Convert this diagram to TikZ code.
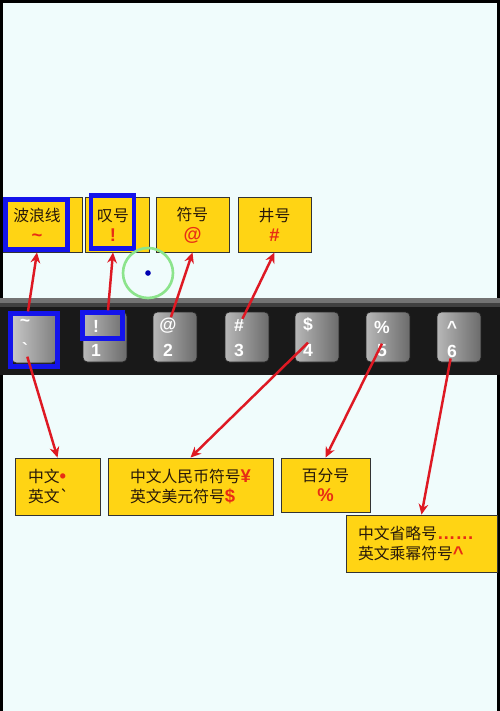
\documentclass[tikz,border=0pt]{standalone}
\usepackage{fontspec}
\newfontfamily\cjk{Noto Sans CJK SC}
\newfontfamily\symf{Liberation Sans}
\usetikzlibrary{arrows.meta, positioning}

\definecolor{bgcyan}{RGB}{240,252,252}
\definecolor{tipyellow}{RGB}{255,212,20}
\definecolor{hlblue}{RGB}{20,20,235}
\definecolor{arrowred}{RGB}{222,25,35}
\definecolor{symred}{RGB}{232,45,20}
\definecolor{inkbrown}{RGB}{40,25,10}
\definecolor{ringgreen}{RGB}{140,228,140}
\newcommand{\redsym}[1]{{\symf\bfseries\fontsize{10.5}{11.5}\selectfont\color{symred}#1}}

\begin{document}
\begin{tikzpicture}[x=0.02cm, y=-0.02cm, >={Stealth[length=6pt, width=5.5pt]},
  tipbox/.style={draw=black!80, line width=0.5pt, fill=tipyellow, inner sep=1pt},
  tiptext/.style={font=\cjk\fontsize{9}{11.5}\selectfont, text=inkbrown, align=center, inner sep=1pt},
  hlrect/.style={draw=hlblue, line width=2.4pt, inner sep=0pt},
  keycap/.style={rounded corners=2.5pt, draw=black!85, left color=black!28, right color=black!58,
                 inner sep=0pt, minimum width=0.88cm, minimum height=1cm},
  keyglyph/.style={font=\symf\bfseries\fontsize{10}{10}\selectfont, text=white, inner sep=0.5pt},
  pointer/.style={->, arrowred, line width=1.4pt}]
  \useasboundingbox (0,0) rectangle (500,711);

  % Background and frame
  \fill[black] (0,0) rectangle (500,711);
  \fill[bgcyan] (3,3) rectangle (497,711);

  % Top labels
  \node[tipbox, minimum width=1.58cm, minimum height=1.1cm] (boxTilde) at (42.5,224.5) {};
  \node[tiptext] (txtTilde) at (37,225) {波浪线\\\redsym{\symbol{126}}};
  \node[tipbox, minimum width=1.28cm, minimum height=1.1cm] (boxBang) at (117,224.5) {};
  \node[tiptext] (txtBang) at (113,225) {叹号\\\redsym{!}};
  \node[tipbox, minimum width=1.46cm, minimum height=1.1cm] (boxAt) at (192.5,224.5) {};
  \node[tiptext] (txtAt) at (192.5,225) {符号\\\redsym{@}};
  \node[tipbox, minimum width=1.46cm, minimum height=1.1cm] (boxHash) at (274.5,224.5) {};
  \node[tiptext] (txtHash) at (274.5,225) {井号\\\redsym{\#}};

  % Highlights on the top labels
  \node[hlrect, minimum width=1.24cm, minimum height=1cm] (hlTilde) at (36.5,224.5) {};
  \node[hlrect, minimum width=0.86cm, minimum height=1.06cm] (hlBang) at (112.5,222) {};

  % Keyboard strip
  \fill[black!90] (0,298) rectangle (500,375);
  \fill[black!55] (0,298) rectangle (500,303);
  \fill[black!75] (0,303) rectangle (500,307);

  % Keys
  \node[keycap, left color=black!22, right color=black!50] (kTilde) at (34,338) {};
  \node[keycap] (kOne) at (105,337) {};
  \node[keycap] (kTwo) at (175,337) {};
  \node[keycap] (kThree) at (247,337) {};
  \node[keycap] (kFour) at (317,337) {};
  \node[keycap] (kFive) at (388,337) {};
  \node[keycap] (kSix) at (459,337) {};

  % Key legends
  \node[keyglyph] (gTilde) at (25,323) {\symbol{126}};
  \node[keyglyph] (gGrave) at (25,349) {\symbol{96}};
  \node[keyglyph] (gBang) at (96,326) {!};
  \node[keyglyph] (dOne) at (96,350) {1};
  \node[keyglyph] (gAt) at (168,326) {@};
  \node[keyglyph] (dTwo) at (168,350) {2};
  \node[keyglyph] (gHash) at (239,326) {\#};
  \node[keyglyph] (dThree) at (239,350) {3};
  \node[keyglyph] (gDollar) at (308,325) {\$};
  \node[keyglyph] (dFour) at (308,350) {4};
  \node[keyglyph] (gPct) at (382,327) {\%};
  \node[keyglyph] (dFive) at (382,351) {5};
  \node[keyglyph] (gCaret) at (452,327) {\symbol{94}};
  \node[keyglyph] (dSix) at (452,351) {6};

  % Highlights on the keys
  \node[hlrect, minimum width=0.94cm, minimum height=1.06cm] (hlKeyTilde) at (34,340) {};
  \node[hlrect, minimum width=0.8cm, minimum height=0.52cm] (hlKeyBang) at (102.5,325.5) {};

  % Bottom labels
  \node[tipbox, tiptext, align=left, inner xsep=0.26cm, text width=1.18cm, minimum height=1.14cm] (bTilde) at (57.5,486.5)
    {中文\redsym{\symbol{"2022}}\\英文\symbol{96}};
  \node[tipbox, tiptext, align=left, minimum width=3.3cm, minimum height=1.14cm] (bDollar) at (190.5,486.5)
    {中文人民币符号\redsym{\symbol{"A5}}\\英文美元符号\redsym{\$}};
  \node[tipbox, tiptext, minimum width=1.78cm, minimum height=1.08cm] (bPct) at (325.5,485)
    {百分号\\\redsym{\%}};
  \node[tipbox, tiptext, align=left, inner xsep=0.24cm, text width=2.54cm, minimum height=1.14cm] (bCaret) at (421.5,543.5)
    {中文省略号\redsym{\symbol{"2026}\symbol{"2026}}\\英文乘幂符号\redsym{\symbol{94}}};

  % Pointers
  \draw[pointer] ([xshift=-0.12cm]hlKeyTilde.north) -- (txtTilde |- boxTilde.south);
  \draw[pointer] ([xshift=0.11cm]hlKeyBang.north) -- (txtBang |- boxBang.south);
  \draw[pointer] (gAt) -- (txtAt |- boxAt.south);
  \draw[pointer] (gHash) -- (txtHash |- boxHash.south);
  \draw[pointer] (gGrave) -- (bTilde.north);
  \draw[pointer] (dFour.north) -- (bDollar.north);
  \draw[pointer] (dFive.north) -- (bPct.north);
  \draw[pointer] (dSix) -- (bCaret.north);

  % Cursor
  \node[circle, draw=ringgreen, line width=1.5pt, minimum size=1cm] (cursorRing) at (148,273) {};
  \node[circle, fill=blue!70!black, inner sep=0pt, minimum size=3.2pt] (cursorDot) at (cursorRing) {};
\end{tikzpicture}
\end{document}
